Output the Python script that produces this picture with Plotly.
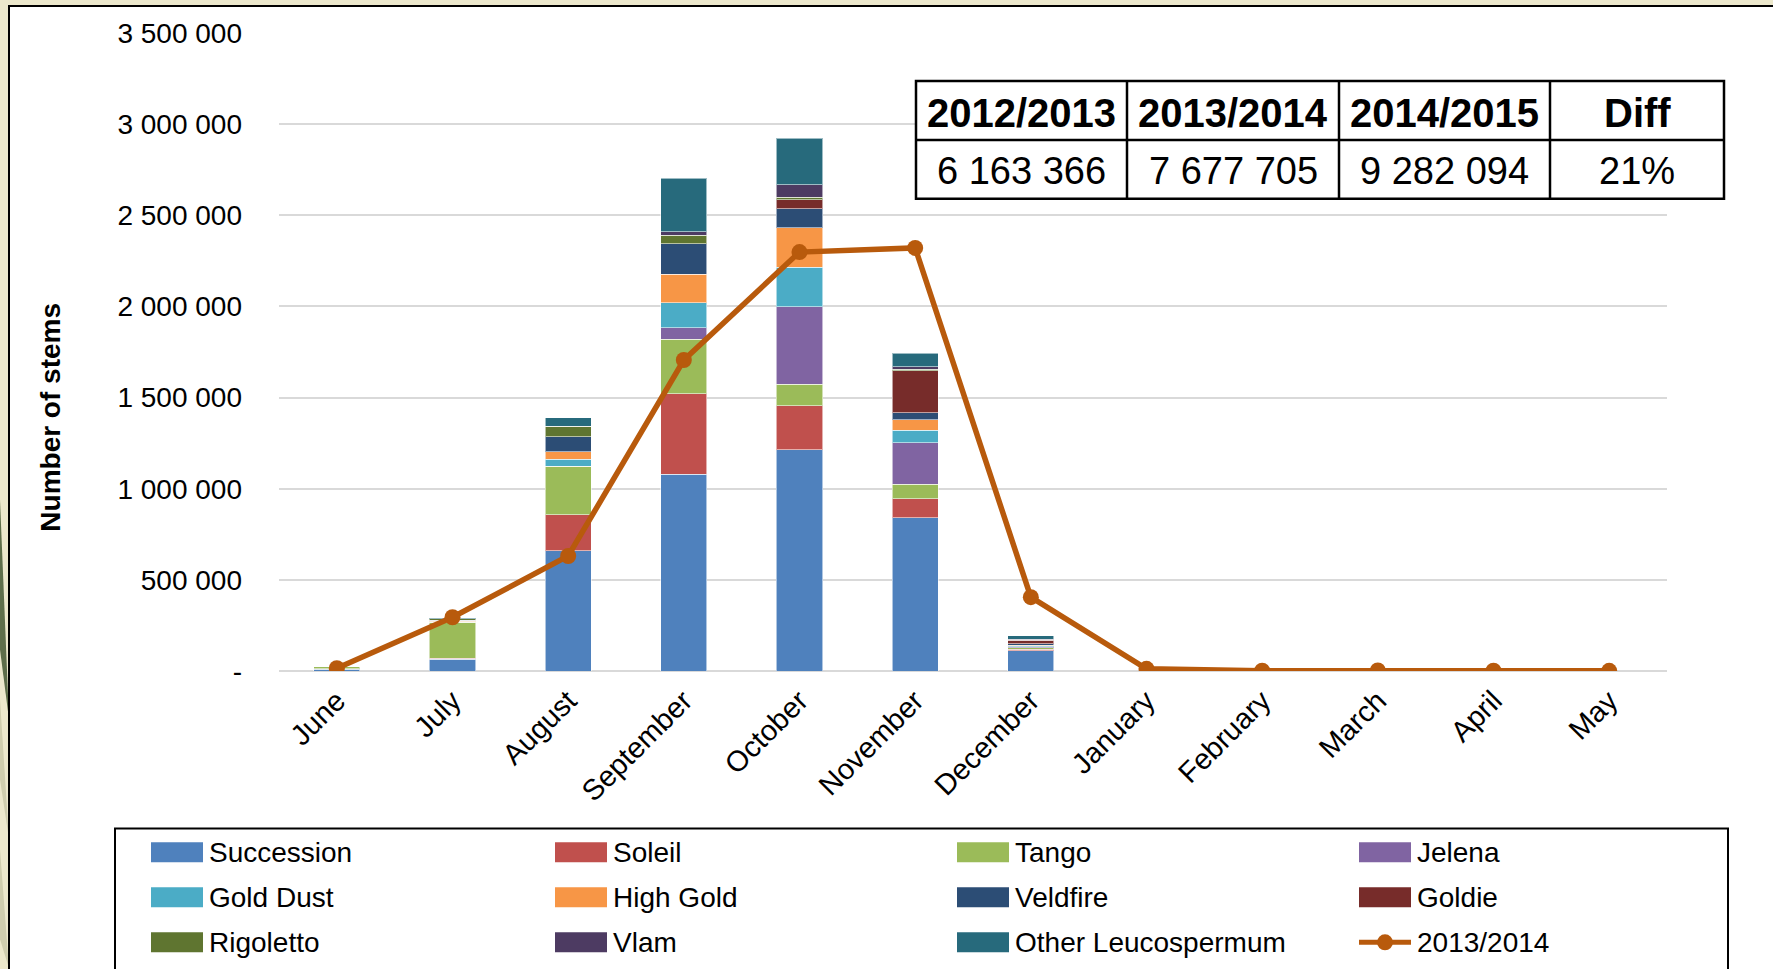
import plotly.graph_objects as go

# ---------------- data ----------------
months = ["June", "July", "August", "September", "October", "November",
          "December", "January", "February", "March", "April", "May"]

succession = [10000, 65000, 659000, 1080000, 1213000, 842000, 112000, 0, 0, 0, 0, 0]
soleil     = [2000, 5000, 197000, 440000, 241000, 104000, 8000, 0, 0, 0, 0, 0]
tango      = [12000, 198000, 266000, 300000, 119000, 79000, 8000, 0, 0, 0, 0, 0]
jelena     = [0, 0, 0, 64000, 424000, 226000, 6000, 0, 0, 0, 0, 0]
gold_dust  = [2000, 3000, 41000, 137000, 219000, 71000, 4000, 0, 0, 0, 0, 0]
high_gold  = [0, 2000, 41000, 155000, 216000, 57000, 4000, 0, 0, 0, 0, 0]
veldfire   = [0, 5000, 82000, 168000, 104000, 39000, 8000, 0, 0, 0, 0, 0]
goldie     = [0, 0, 0, 0, 49000, 230000, 20000, 0, 0, 0, 0, 0]
rigoletto  = [0, 8000, 57000, 46000, 15000, 7000, 2000, 0, 0, 0, 0, 0]
vlam       = [0, 0, 0, 20000, 68000, 13000, 3000, 0, 0, 0, 0, 0]
other_leu  = [0, 3000, 45000, 294000, 255000, 75000, 18000, 0, 0, 0, 0, 0]

series_names = ["Succession", "Soleil", "Tango", "Jelena", "Gold Dust", "High Gold",
                "Veldfire", "Goldie", "Rigoletto", "Vlam", "Other Leucospermum"]
series_values = [succession, soleil, tango, jelena, gold_dust, high_gold,
                 veldfire, goldie, rigoletto, vlam, other_leu]
series_colors = ["#4F81BD", "#C0504D", "#9BBB59", "#8064A2", "#4BACC6", "#F79646",
                 "#2C4D75", "#772C2A", "#5F7530", "#4D3B62", "#276A7C"]

line_name = "2013/2014"
line_values = [15000, 295000, 631000, 1706000, 2298000, 2321000, 405000,
               12000, 2000, 3000, 2000, 1000]
line_color = "#B85A0C"

y_tick_vals = [0, 500000, 1000000, 1500000, 2000000, 2500000, 3000000, 3500000]
y_tick_text = ["-", "500 000", "1 000 000", "1 500 000", "2 000 000",
               "2 500 000", "3 000 000", "3 500 000"]
axis_title = "Number of stems"

table_header = ["2012/2013", "2013/2014", "2014/2015", "Diff"]
table_values = ["6 163 366", "7 677 705", "9 282 094", "21%"]

# ---------------- layout helpers ----------------
W, H = 1773, 969
L, R, T, B = 279, 1667, 33, 671.5


def px(x):
    return (x - L) / (R - L)


def py(y):
    return (B - y) / (B - T)


SANS = "Liberation Sans, Arial, sans-serif"

fig = go.Figure()

for name, vals, col in zip(series_names, series_values, series_colors):
    fig.add_trace(go.Bar(
        x=months, y=vals, name=name,
        marker=dict(color=col, line=dict(color="rgba(255,255,255,0.55)", width=1)),
        showlegend=False,
    ))

fig.add_trace(go.Scatter(
    x=months, y=line_values, name=line_name, mode="lines+markers",
    line=dict(color=line_color, width=5.5),
    marker=dict(color=line_color, size=16),
    showlegend=False,
))

shapes = []
annotations = []

# decorative leaves at the left edge (behind the card)
shapes.append(dict(type="path", xref="paper", yref="paper",
                   path="M {} {} L {} {} L {} {} Z".format(px(0), py(500), px(9), py(720), px(0), py(650)),
                   fillcolor="#5E6E4A", line=dict(width=0), layer="below"))
shapes.append(dict(type="path", xref="paper", yref="paper",
                   path="M {} {} L {} {} L {} {} Z".format(px(0), py(700), px(9), py(840), px(0), py(780)),
                   fillcolor="#CFCDAE", line=dict(width=0), layer="below"))
shapes.append(dict(type="path", xref="paper", yref="paper",
                   path="M {} {} L {} {} L {} {} Z".format(px(0), py(850), px(9), py(969), px(0), py(940)),
                   fillcolor="#CFCDAE", line=dict(width=0), layer="below"))

# white card with black border
shapes.append(dict(type="rect", xref="paper", yref="paper",
                   x0=px(9), x1=px(1800), y0=py(1000), y1=py(6),
                   fillcolor="white", line=dict(color="black", width=2), layer="below"))

# summary table
col_x = [916, 1127, 1339, 1550, 1724]
row_y = [81, 140, 199]
shapes.append(dict(type="rect", xref="paper", yref="paper",
                   x0=px(col_x[0]), x1=px(col_x[-1]), y0=py(row_y[2]), y1=py(row_y[0]),
                   fillcolor="white", line=dict(color="black", width=2.5), layer="above"))
shapes.append(dict(type="line", xref="paper", yref="paper",
                   x0=px(col_x[0]), x1=px(col_x[-1]), y0=py(row_y[1]), y1=py(row_y[1]),
                   line=dict(color="black", width=2.5)))
for cx in col_x[1:-1]:
    shapes.append(dict(type="line", xref="paper", yref="paper",
                       x0=px(cx), x1=px(cx), y0=py(row_y[0]), y1=py(row_y[2]),
                       line=dict(color="black", width=2.5)))
for i, (hd, val) in enumerate(zip(table_header, table_values)):
    cxm = (col_x[i] + col_x[i + 1]) / 2
    annotations.append(dict(x=px(cxm), y=py(113), xref="paper", yref="paper",
                            text="<b>" + hd + "</b>", showarrow=False,
                            font=dict(family=SANS, size=40, color="black"),
                            xanchor="center", yanchor="middle"))
    annotations.append(dict(x=px(cxm), y=py(171), xref="paper", yref="paper",
                            text=val, showarrow=False,
                            font=dict(family=SANS, size=38, color="black"),
                            xanchor="center", yanchor="middle"))

# axis title
annotations.append(dict(x=px(51), y=py(418), xref="paper", yref="paper",
                        text="<b>" + axis_title + "</b>", showarrow=False, textangle=-90,
                        font=dict(family=SANS, size=28, color="black"),
                        xanchor="center", yanchor="middle"))

# custom legend
shapes.append(dict(type="rect", xref="paper", yref="paper",
                   x0=px(115), x1=px(1728), y0=py(973), y1=py(829),
                   fillcolor="white", line=dict(color="black", width=2), layer="below"))
sw_x = [151, 555, 957, 1359]
tx_x = [207, 611, 1013, 1415]
row_c = [853, 898, 943]
entries = list(zip(series_names, series_colors)) + [(line_name, None)]
for k, (name, col) in enumerate(entries):
    r, c = divmod(k, 4)
    yc = row_c[r]
    if col is not None:
        shapes.append(dict(type="rect", xref="paper", yref="paper",
                           x0=px(sw_x[c]), x1=px(sw_x[c] + 52), y0=py(yc + 10), y1=py(yc - 10),
                           fillcolor=col, line=dict(width=0)))
    else:
        shapes.append(dict(type="line", xref="paper", yref="paper",
                           x0=px(sw_x[c]), x1=px(sw_x[c] + 52), y0=py(yc), y1=py(yc),
                           line=dict(color=line_color, width=5)))
        shapes.append(dict(type="circle", xref="paper", yref="paper",
                           x0=px(sw_x[c] + 18), x1=px(sw_x[c] + 34), y0=py(yc + 8), y1=py(yc - 8),
                           fillcolor=line_color, line=dict(width=0)))
    annotations.append(dict(x=px(tx_x[c]), y=py(yc), xref="paper", yref="paper",
                            text=name, showarrow=False,
                            font=dict(family=SANS, size=28, color="black"),
                            xanchor="left", yanchor="middle"))

fig.update_layout(
    width=W, height=H, autosize=False,
    margin=dict(l=L, r=W - R, t=T, b=H - B, pad=0),
    paper_bgcolor="#ECE8CC",
    plot_bgcolor="rgba(0,0,0,0)",
    barmode="stack",
    bargap=0.6,
    showlegend=False,
    shapes=shapes,
    annotations=annotations,
    xaxis=dict(tickangle=-45, tickfont=dict(family=SANS, size=29, color="black"),
               range=[-0.5, len(months) - 0.5],
               showgrid=False, showline=False, ticks="", ticklabelstandoff=6),
    yaxis=dict(range=[0, 3500000], tickvals=y_tick_vals, ticktext=y_tick_text,
               tickfont=dict(family=SANS, size=28, color="black"),
               showgrid=True, gridcolor="#D9D9D9", gridwidth=2,
               zeroline=True, zerolinecolor="#D9D9D9", zerolinewidth=2,
               showline=False, ticks="", ticklabelstandoff=36),
)

fig.write_html("out.html",
               config={"displayModeBar": False},
               post_script="document.body.style.margin='0';document.body.style.overflow='hidden';")
